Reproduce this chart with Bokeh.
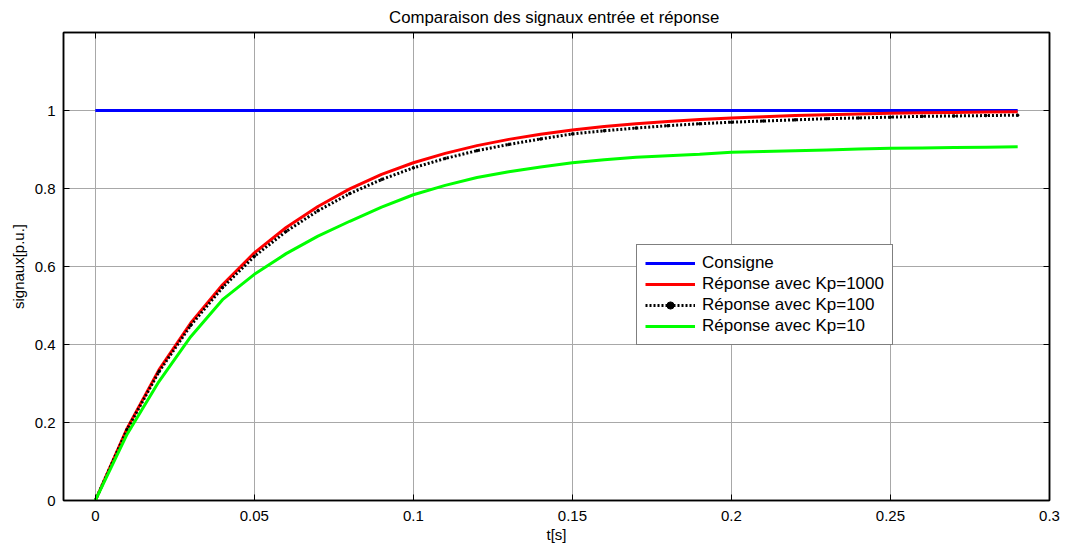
from bokeh.plotting import figure
from bokeh.models import (LinearAxis, Range1d, FixedTicker, Legend, LegendItem,
                          ColumnDataSource, CustomJSTickFormatter)
from bokeh.embed import file_html
from bokeh.resources import INLINE

t = [0.00, 0.01, 0.02, 0.03, 0.04, 0.05, 0.06, 0.07, 0.08, 0.09,
     0.10, 0.11, 0.12, 0.13, 0.14, 0.15, 0.16, 0.17, 0.18, 0.19,
     0.20, 0.21, 0.22, 0.23, 0.24, 0.25, 0.26, 0.27, 0.28, 0.29]
consigne = [1.0] * len(t)
kp1000 = [0.000, 0.185, 0.335, 0.455, 0.553, 0.635, 0.700, 0.754, 0.799, 0.836,
          0.866, 0.890, 0.910, 0.926, 0.939, 0.950, 0.959, 0.966, 0.972, 0.977,
          0.981, 0.984, 0.987, 0.989, 0.991, 0.993, 0.994, 0.995, 0.996, 0.997]
kp100 = [0.000, 0.182, 0.330, 0.449, 0.546, 0.626, 0.690, 0.743, 0.787, 0.823,
         0.853, 0.877, 0.897, 0.913, 0.927, 0.940, 0.948, 0.955, 0.961, 0.966,
         0.970, 0.973, 0.976, 0.979, 0.981, 0.983, 0.985, 0.986, 0.987, 0.988]
kp10 = [0.000, 0.170, 0.305, 0.420, 0.515, 0.580, 0.633, 0.678, 0.716, 0.752,
        0.784, 0.808, 0.828, 0.843, 0.855, 0.866, 0.874, 0.880, 0.884, 0.888,
        0.893, 0.895, 0.897, 0.899, 0.901, 0.903, 0.904, 0.905, 0.906, 0.907]

x_ticks = [0, 0.05, 0.1, 0.15, 0.2, 0.25, 0.3]
x_labels = {0: "0", 0.05: "0.05", 0.1: "0.1", 0.15: "0.15", 0.2: "0.2", 0.25: "0.25", 0.3: "0.3"}
y_ticks = [0, 0.2, 0.4, 0.6, 0.8, 1.0, 1.2]
y_labels = {0: "0", 0.2: "0.2", 0.4: "0.4", 0.6: "0.6", 0.8: "0.8", 1.0: "1", 1.2: ""}

FONT = "Liberation Sans"

p = figure(width=1060, height=547,
           x_range=Range1d(-0.01, 0.3), y_range=Range1d(0, 1.2),
           output_backend="svg", toolbar_location=None,
           min_border_left=63, min_border_right=11, min_border_top=32, min_border_bottom=47,
           background_fill_color="white", border_fill_color="white")

p.title.text = "Comparaison  des signaux entrée et réponse"
p.title.align = "center"
p.title.text_font = FONT
p.title.text_font_size = "16.8px"
p.title.text_font_style = "normal"
p.title.text_color = "black"
p.title.standoff = 11

p.outline_line_color = "black"
p.outline_line_width = 1.5

for ax in (p.xaxis[0], p.yaxis[0]):
    ax.major_label_text_font = FONT
    ax.major_label_text_font_size = "15px"
    ax.major_label_text_color = "black"
    ax.axis_label_text_font = FONT
    ax.axis_label_text_font_size = "15px"
    ax.axis_label_text_font_style = "normal"
    ax.axis_label_text_color = "black"
    ax.major_tick_in = 6
    ax.major_tick_out = 0
    ax.minor_tick_line_color = None
    ax.axis_line_color = "black"
    ax.axis_line_width = 1.5
    ax.major_tick_line_color = "black"

p.xaxis[0].ticker = FixedTicker(ticks=x_ticks)
p.xaxis[0].major_label_overrides = x_labels
p.xaxis[0].axis_label = "t[s]"
p.xaxis[0].axis_label_standoff = 2
p.xaxis[0].major_label_standoff = 10
p.yaxis[0].ticker = FixedTicker(ticks=y_ticks)
p.yaxis[0].major_label_overrides = y_labels
p.yaxis[0].axis_label = "signaux[p.u.]"
p.yaxis[0].axis_label_standoff = 5
p.yaxis[0].major_label_standoff = 8

blank = CustomJSTickFormatter(code="return ''")
top = LinearAxis(ticker=FixedTicker(ticks=x_ticks), formatter=blank,
                 major_tick_in=6, major_tick_out=0, minor_tick_line_color=None,
                 axis_line_color="black", axis_line_width=1.5, major_label_standoff=0)
right = LinearAxis(ticker=FixedTicker(ticks=y_ticks), formatter=blank,
                   major_tick_in=6, major_tick_out=0, minor_tick_line_color=None,
                   axis_line_color="black", axis_line_width=1.5, major_label_standoff=0)
p.add_layout(top, "above")
p.add_layout(right, "right")

p.xgrid.ticker = FixedTicker(ticks=x_ticks)
p.ygrid.ticker = FixedTicker(ticks=y_ticks)
p.grid.grid_line_color = "#a8a8a8"
p.grid.grid_line_width = 1

src = ColumnDataSource(dict(t=t, c=consigne, r=kp1000, k=kp100, g=kp10))

r_c = p.line("t", "c", source=src, line_color="#0000ff", line_width=3)
r_r = p.line("t", "r", source=src, line_color="#ff0000", line_width=3)
r_k = p.line("t", "k", source=src, line_color="black", line_width=3, line_dash="2 2")
r_km = p.scatter("t", "k", source=src, marker="circle", size=2.5, color="black")
r_g = p.line("t", "g", source=src, line_color="#00ff00", line_width=3)

legend = Legend(items=[
    LegendItem(label="Consigne", renderers=[r_c]),
    LegendItem(label="Réponse avec Kp=1000", renderers=[r_r]),
    LegendItem(label="Réponse avec Kp=100", renderers=[r_k, r_km]),
    LegendItem(label="Réponse avec Kp=10", renderers=[r_g]),
], location=(573, 155))
legend.label_text_font = FONT
legend.label_text_font_size = "17px"
legend.label_text_color = "black"
legend.border_line_color = "black"
legend.border_line_width = 1.5
legend.background_fill_color = "white"
legend.background_fill_alpha = 1
legend.glyph_width = 50
legend.glyph_height = 18
legend.label_height = 20
legend.spacing = 1
legend.padding = 8
legend.margin = 0
legend.label_standoff = 7
p.add_layout(legend, "center")

open("out.html", "w").write(file_html(p, INLINE))
